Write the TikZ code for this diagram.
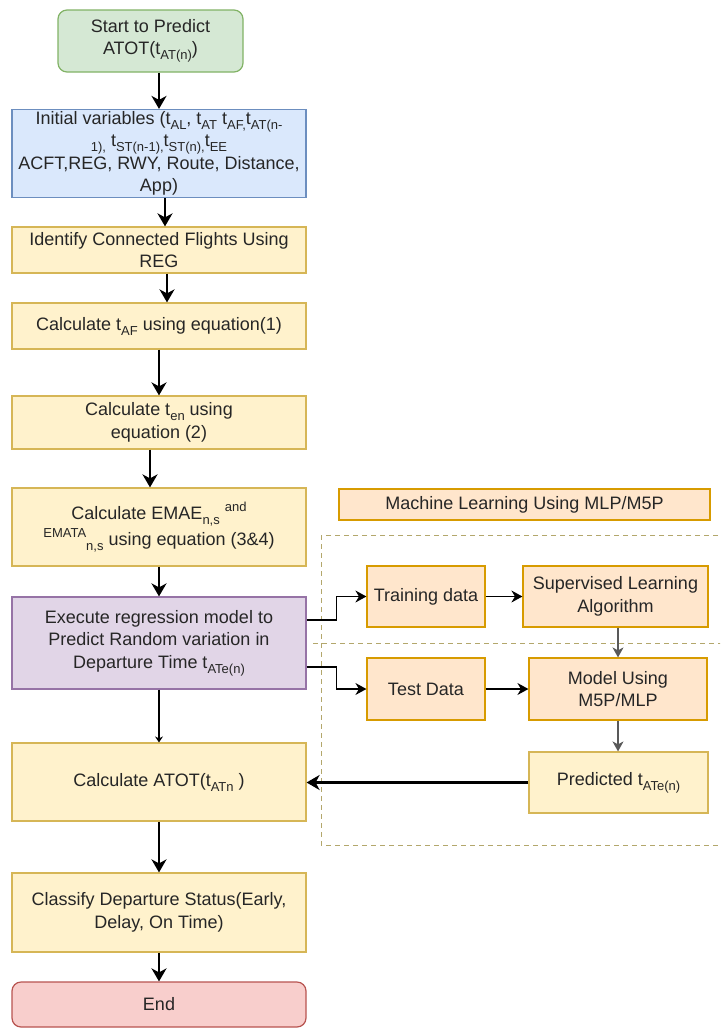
\documentclass[tikz,border=0pt]{standalone}
\usepackage{fontspec}
\setmainfont{Liberation Sans}
\usetikzlibrary{arrows.meta,calc}
\definecolor{gfill}{HTML}{D5E8D4}\definecolor{gstroke}{HTML}{82B366}
\definecolor{bfill}{HTML}{DAE8FC}\definecolor{bstroke}{HTML}{6C8EBF}
\definecolor{yfill}{HTML}{FFF2CC}\definecolor{ystroke}{HTML}{D6B656}
\definecolor{pfill}{HTML}{E1D5E7}\definecolor{pstroke}{HTML}{9673A6}
\definecolor{ofill}{HTML}{FFE6CC}\definecolor{ostroke}{HTML}{D79B00}
\definecolor{rfill}{HTML}{F8CECC}\definecolor{rstroke}{HTML}{B85450}
\definecolor{txt}{HTML}{262626}
\definecolor{dashc}{HTML}{B3A76C}
\newcommand\sbs[1]{\raisebox{-0.28em}{\fontsize{6.5}{7}\selectfont #1}}
\newcommand\sps[1]{\raisebox{0.45em}{\fontsize{6.5}{7}\selectfont #1}}
\begin{document}
\begin{tikzpicture}[x=0.5pt,y=-0.5pt,
  base/.style={draw, line width=0.6pt, inner sep=1pt, align=center,
    font=\fontsize{9}{11.2}\selectfont, text=txt},
  gbox/.style={base, fill=gfill, draw=gstroke, rounded corners=4.5pt},
  bbox/.style={base, fill=bfill, draw=bstroke},
  ybox/.style={base, fill=yfill, draw=ystroke},
  pbox/.style={base, fill=pfill, draw=pstroke},
  obox/.style={base, fill=ofill, draw=ostroke},
  rbox/.style={base, fill=rfill, draw=rstroke, rounded corners=4.5pt},
  wide/.style={minimum width=147pt},
  mainarrow/.style={line width=1.1pt, -{Stealth[length=6.5pt,width=7.5pt,inset=2pt]}},
  thinarrow/.style={line width=0.7pt, -{Stealth[length=5.5pt,width=6pt,inset=1.8pt]}},
  greyarrow/.style={line width=0.7pt, draw=black!65, -{Stealth[length=5pt,width=5.5pt,inset=1.5pt]}},
  smallarrow/.style={line width=0.9pt, -{Stealth[length=3pt,width=4pt,inset=1pt]}},
  dashline/.style={draw=dashc, line width=0.5pt, dash pattern=on 2.5pt off 2pt}
]
\useasboundingbox (0,0) rectangle (720,1028);
\clip (0,0) rectangle (720,1028);
\fill[white] (0,0) rectangle (720,1028);

% dashed region
\draw[dashline] (321,535) rectangle (745,845);
\draw[dashline] (313,643) -- (745,643);

% main column
\node[gbox, minimum width=92.5pt, minimum height=31pt] (start) at (150.5,41)
  {Start to Predict\\ATOT(t\sbs{AT(n)})};
\node[bbox, wide, minimum height=41.5pt] (init) at (159,153.5)
  {Initial variables (t\sbs{AL}, t\sbs{AT} t\sbs{AF,}t\sbs{AT(n-}\\
   \sbs{1),} t\sbs{ST(n-1),}t\sbs{ST(n),}t\sbs{EE}\\
   ACFT,REG, RWY, Route, Distance,\\ App)};
\node[ybox, wide, minimum height=23pt] (ident) at (159,250)
  {Identify Connected Flights Using\\REG};
\node[ybox, wide, minimum height=23pt] (calc1) at (159,326)
  {Calculate t\sbs{AF} using equation(1)};
\node[ybox, wide, minimum height=26.5pt] (ten) at (159,422.5)
  {Calculate t\sbs{en} using\\equation (2)};
\node[ybox, wide, minimum height=39pt] (emae) at (159,527)
  {Calculate EMAE\sbs{n,s} \sps{and}\\
   \sps{EMATA}\sbs{n,s} using equation (3\&4)};
\node[pbox, wide, minimum height=46pt] (exec) at (159,643)
  {Execute regression model to\\Predict Random variation in\\Departure Time t\sbs{ATe(n)}};
\node[ybox, wide, minimum height=39pt] (atot) at (159,782)
  {Calculate ATOT(t\sbs{ATn} )};
\node[ybox, wide, minimum height=39.5pt] (classify) at (159,912.5)
  {Classify Departure Status(Early,\\Delay, On Time)};
\node[rbox, wide, minimum height=22.5pt] (end) at (159,1004.5) {End};

% machine learning part
\node[obox, minimum width=185.5pt, minimum height=15.5pt] (ml) at (524.5,504.5)
  {Machine Learning Using MLP/M5P};
\node[obox, minimum width=59pt, minimum height=30.5pt] (train) at (426,596.5)
  {Training data};
\node[obox, minimum width=92.5pt, minimum height=30.5pt] (sup) at (615.5,596.5)
  {Supervised Learning\\Algorithm};
\node[obox, minimum width=59pt, minimum height=31pt] (test) at (426,689)
  {Test Data};
\node[obox, minimum width=89pt, minimum height=31pt] (model) at (618,689)
  {Model Using\\M5P/MLP};
\node[ybox, minimum width=89.5pt, minimum height=30.5pt] (pred) at (618.5,782.5)
  {Predicted t\sbs{ATe(n)}};

% main flow arrows
\draw[mainarrow] (start.south -| init.north) -- (init.north);
\draw[mainarrow] ([xshift=3pt]init.south) -- ([xshift=3pt]ident.north);
\draw[mainarrow] ([xshift=4pt]ident.south) -- ([xshift=4pt]calc1.north);
\draw[mainarrow] (calc1.south) -- (ten.north);
\draw[mainarrow] ([xshift=-4.5pt]ten.south) -- ([xshift=-4.5pt]emae.north);
\draw[mainarrow] (emae.south) -- (exec.north);
\draw[smallarrow] (exec.south) -- (atot.north);
\draw[mainarrow] (atot.south) -- (classify.north);
\draw[mainarrow] (classify.south) -- (end.north);

% ML arrows
\draw[thinarrow] ($(exec.east)+(0,-23)$) -- ++(30,0) |- (train.west);
\draw[thinarrow] ($(exec.east)+(0,24)$) -- ++(30,0) |- (test.west);
\draw[thinarrow] (train.east) -- (sup.west);
\draw[thinarrow] (test.east) -- (model.west);
\draw[greyarrow] (sup.south -| model.north) -- (model.north);
\draw[greyarrow] (model.south) -- (model.south |- pred.north);
\draw[mainarrow] (pred.west) -- (pred.west -| atot.east);
\end{tikzpicture}
\end{document}
